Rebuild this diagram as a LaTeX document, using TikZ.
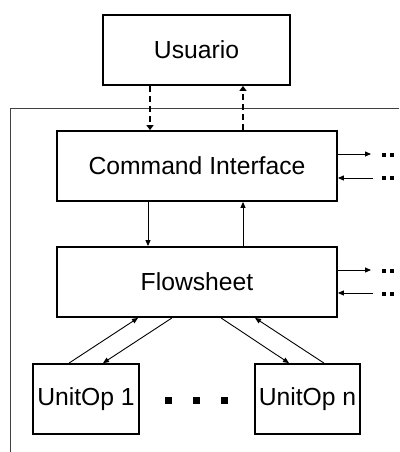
\documentclass[tikz,border=0pt]{standalone}
\usepackage{fontspec}
\setmainfont{Liberation Sans}
\usetikzlibrary{arrows.meta,calc}
\begin{document}
\begin{tikzpicture}[x=1pt,y=-1pt,
  box/.style={draw,line width=1.8pt,inner sep=0pt,minimum height=70pt,font=\fontsize{24.7}{28}\selectfont},
  conn/.style={line width=0.9pt,-{Triangle[length=6pt,width=5pt]}},
  dconn/.style={line width=1.8pt,dash pattern=on 6pt off 4pt,-{Triangle[length=5pt,width=7pt]}},
  dotsq/.style={fill,inner sep=0pt,minimum size=3.2pt},
  bigdot/.style={fill,inner sep=0pt,minimum size=7pt}]
\useasboundingbox (0,0) rectangle (399,452);
% container
\coordinate (ctl) at (10.5,108.5);
\coordinate (ctr) at (399,108.5);
\coordinate (cbl) at (10.5,452);
\draw[line width=1pt,black!75] (ctr) -- (ctl) -- (cbl);
% boxes
\node[box,minimum width=187pt] (usr) at (196.5,50) {Usuario};
\node[box,minimum width=280pt] (cmd) at (197,166) {Command Interface};
\node[box,minimum width=280pt] (flw) at (197,282) {Flowsheet};
\node[box,minimum width=106pt] (u1) at (86,399) {UnitOp 1};
\node[box,minimum width=105pt] (un) at (307.5,399) {UnitOp n};
% dashed user arrows
\draw[dconn] ([xshift=-46.5pt]usr.south) -- ([xshift=-47pt]cmd.north);
\draw[dconn] ([xshift=46pt]cmd.north) -- ([xshift=46.5pt]usr.south);
% cmd <-> flowsheet
\draw[conn] ([xshift=-49pt]cmd.south) -- ([xshift=-49pt]flw.north);
\draw[conn] ([xshift=46pt]flw.north) -- ([xshift=46pt]cmd.north |- cmd.south);
% side dots
\node[dotsq] (d1a) at (384,155) {};
\node[dotsq] (d1b) at (392,155) {};
\node[dotsq] (d2a) at (384,178) {};
\node[dotsq] (d2b) at (392,178) {};
\node[dotsq] (d3a) at (384,271) {};
\node[dotsq] (d3b) at (392,271) {};
\node[dotsq] (d4a) at (384,294) {};
\node[dotsq] (d4b) at (392,294) {};
\coordinate (o1) at (371,154);
\coordinate (i1) at (373,178);
\coordinate (o2) at (371,270);
\coordinate (i2) at (373,293);
\draw[conn] (cmd.east |- o1) -- (o1);
\draw[conn] (i1) -- (cmd.east |- i1);
\draw[conn] (flw.east |- o2) -- (o2);
\draw[conn] (i2) -- (flw.east |- i2);
% diagonals
\draw[conn] ([xshift=-17pt]u1.north) -- ([xshift=-59pt]flw.south);
\draw[conn] ([xshift=-25pt]flw.south) -- ([xshift=17pt]u1.north);
\draw[conn] ([xshift=24pt]flw.south) -- ([xshift=-18.5pt]un.north);
\draw[conn] ([xshift=16.5pt]un.north) -- ([xshift=58pt]flw.south);
% ellipsis squares
\node[bigdot] (e1) at (168,400) {};
\node[bigdot] (e2) at (196,400) {};
\node[bigdot] (e3) at (224,400) {};
\end{tikzpicture}
\end{document}
